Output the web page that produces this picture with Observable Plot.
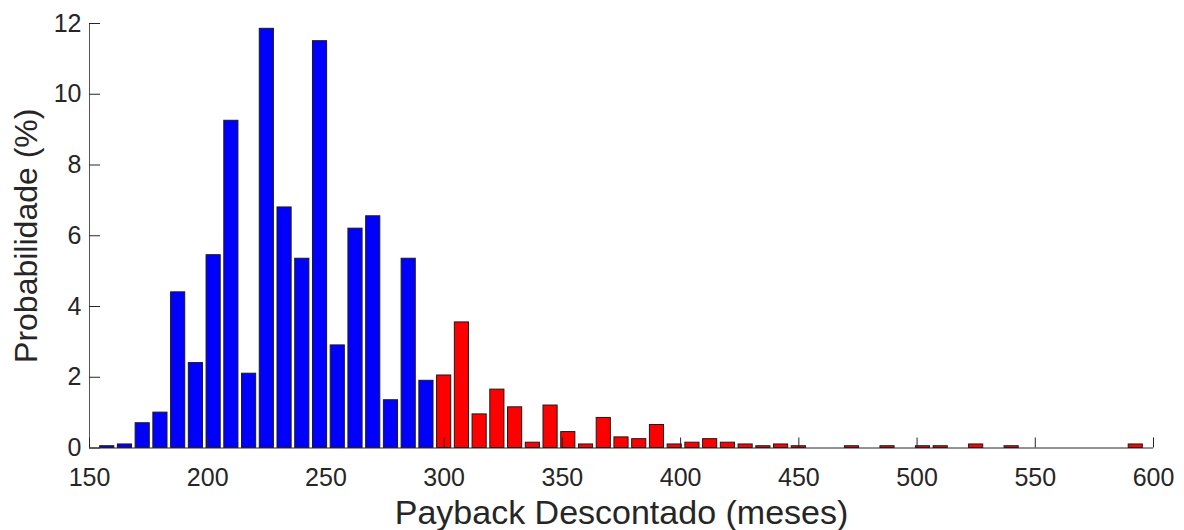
<!DOCTYPE html>
<html>
<head>
<meta charset="utf-8">
<script src="https://cdn.jsdelivr.net/npm/d3@7"></script>
<script src="https://cdn.jsdelivr.net/npm/@observablehq/plot@0.6"></script>
<style>
  html, body { margin: 0; padding: 0; background: #fff; }
  #chart svg { display: block; }
</style>
</head>
<body>
<div id="chart"></div>
<script>
// Histogram of discounted payback (months), 7.5-month bins
const binWidth = 7.5;
const binCenters = [
  157.5, 165, 172.5, 180, 187.5, 195, 202.5, 210, 217.5, 225,
  232.5, 240, 247.5, 255, 262.5, 270, 277.5, 285, 292.5, 300,
  307.5, 315, 322.5, 330, 337.5, 345, 352.5, 360, 367.5, 375,
  382.5, 390, 397.5, 405, 412.5, 420, 427.5, 435, 442.5, 450,
  457.5, 465, 472.5, 480, 487.5, 495, 502.5, 510, 517.5, 525,
  532.5, 540, 547.5, 555, 562.5, 570, 577.5, 585, 592.5
];
const probability = [
  0.05, 0.1, 0.7, 1.0, 4.4, 2.4, 5.45, 9.25, 2.1, 11.85,
  6.8, 5.35, 11.5, 2.9, 6.2, 6.55, 1.35, 5.35, 1.9, 2.05,
  3.55, 0.95, 1.65, 1.15, 0.15, 1.2, 0.45, 0.1, 0.85, 0.3,
  0.25, 0.65, 0.1, 0.15, 0.25, 0.15, 0.1, 0.05, 0.1, 0.05,
  0, 0, 0.05, 0, 0.05, 0, 0.05, 0.05, 0, 0.1,
  0, 0.05, 0, 0, 0, 0, 0, 0, 0.1
];
// Paybacks below this horizon are drawn blue, the rest red
const horizon = 300;
const xTicks = [150, 200, 250, 300, 350, 400, 450, 500, 550, 600];
const yTicks = [0, 2, 4, 6, 8, 10, 12];
const xLabel = "Payback Descontado (meses)";
const yLabel = "Probabilidade (%)";

const bins = binCenters.map((c, i) => ({center: c, value: probability[i]}));

const W = 1184, H = 530;
const mL = 89, mR = 31, mT = 23, mB = 82.5;
const plotW = W - mL - mR, plotH = H - mT - mB;
const ink = "#262626";

const chart = Plot.plot({
  width: W,
  height: H,
  marginLeft: mL,
  marginRight: mR,
  marginTop: mT,
  marginBottom: mB,
  style: {fontFamily: "'Liberation Sans', Arial, sans-serif", background: "#fff", color: ink},
  x: {domain: [150, 600], ticks: xTicks, tickSize: 0, tickPadding: 20, tickFormat: d => String(d), label: null},
  y: {domain: [0, 12], ticks: yTicks, tickSize: 0, tickPadding: 8, tickFormat: d => String(d), label: null},
  marks: [
    Plot.rectY(bins, {
      x1: d => d.center - binWidth / 2,
      x2: d => d.center + binWidth / 2,
      y1: 0,
      y2: "value",
      insetLeft: 1.8,
      insetRight: 1.8,
      fill: d => d.center < horizon ? "#0000ff" : "#ff0000",
      stroke: "#1a1a1a",
      strokeWidth: 1
    }),
    // axis lines
    Plot.ruleY([0], {stroke: ink, strokeWidth: 1}),
    Plot.ruleX([150], {y1: 0, y2: 12, stroke: "#555", strokeWidth: 1}),
    // inward tick marks
    Plot.tickX(xTicks, {x: d => d, insetTop: plotH - 10, stroke: ink, strokeWidth: 1}),
    Plot.tickY(yTicks, {y: d => d, insetRight: plotW - 11, stroke: ink, strokeWidth: 1}),
    // axis titles
    Plot.text([xLabel], {frameAnchor: "bottom", dy: 76, fontSize: 34, fill: ink, text: d => d}),
    Plot.text([yLabel], {frameAnchor: "left", dx: -63, rotate: -90, fontSize: 32, fill: ink, text: d => d, textAnchor: "middle"})
  ]
});

// tick label size
chart.querySelectorAll("[aria-label='x-axis'], [aria-label='y-axis'], [aria-label='x-axis tick label'], [aria-label='y-axis tick label']").forEach(g => {
  g.setAttribute("font-size", "25");
  g.style.fontSize = "25px";
});
chart.querySelectorAll("[aria-label^='x-axis'] text, [aria-label^='y-axis'] text").forEach(t => t.setAttribute("fill", ink));

document.getElementById("chart").appendChild(chart);
</script>
</body>
</html>
